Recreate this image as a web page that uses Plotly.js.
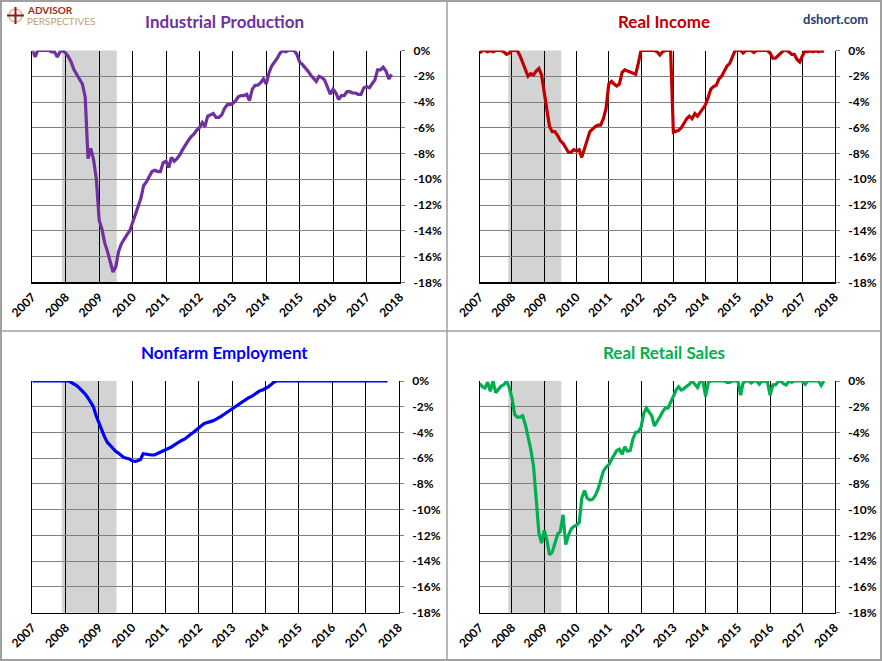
<!DOCTYPE html>
<html>
<head>
<meta charset="utf-8">
<script src="https://cdn.plot.ly/plotly-3.0.1.min.js"></script>
<style>
  html, body { margin: 0; padding: 0; background: #fff; }
  #chart { width: 882px; height: 661px; }
</style>
</head>
<body>
<div id="chart"></div>
<script>
// ---------------- DATA (percent below previous peak, monthly from Jan 2007) ----------------
const startYear = 2007;

const industrialProduction = [
  0, -0.5, 0, 0, 0, 0, 0, -0.1, -0.1, -0.5, -0.1, 0,
  -0.2, -0.5, -0.9, -1.5, -1.9, -2.2, -2.6, -3.6, -8.4, -7.6, -8.5, -10.0,
  -13.2, -13.9, -14.9, -15.6, -16.4, -17.2, -16.8, -15.6, -15.0, -14.6, -14.3, -14.0,
  -13.4, -12.8, -12.2, -11.5, -10.5, -10.2, -9.8, -9.4, -9.3, -9.4, -9.4, -8.7,
  -8.6, -9.1, -8.3, -8.6, -8.4, -8.1, -7.7, -7.3, -7.0, -6.7, -6.5, -6.2,
  -6.0, -5.6, -5.9, -5.1, -5.0, -4.9, -5.2, -5.2, -5.0, -4.5, -4.2, -4.2,
  -4.1, -3.9, -3.6, -3.5, -3.5, -3.4, -3.9, -3.0, -2.7, -2.7, -2.5, -2.2,
  -2.6, -1.7, -1.2, -0.9, -0.6, -0.2, 0, -0.1, 0, 0, 0, -0.3,
  -0.9, -1.1, -1.3, -1.6, -1.9, -2.2, -2.4, -2.0, -2.1, -2.3, -2.8, -3.4,
  -3.0, -3.3, -3.8, -3.5, -3.5, -3.2, -3.2, -3.3, -3.3, -3.4, -3.4, -2.9,
  -2.8, -2.9, -2.6, -2.3, -1.5, -1.5, -1.3, -1.6, -2.2, -1.85
];

const realIncome = [
  -0.2, 0, 0, -0.1, 0, -0.1, 0, 0, 0, -0.1, -0.3, -0.2,
  0, 0, 0, -0.4, -0.9, -1.5, -2.0, -1.8, -1.9, -1.6, -1.4, -1.9,
  -3.3, -5.0, -5.9, -6.3, -6.3, -6.6, -7.0, -7.2, -7.6, -7.9, -7.9, -7.7,
  -7.8, -7.7, -8.3, -7.6, -7.0, -6.3, -6.1, -5.9, -5.8, -5.8, -5.3, -4.5,
  -2.6, -2.4, -2.6, -2.75, -2.6, -1.7, -1.5, -1.6, -1.7, -1.8, -1.85, -1.0,
  0, 0, 0, 0, 0, 0, -0.1, -0.35, -0.1, 0, 0, 0,
  -6.35, -6.3, -6.2, -6.0, -5.6, -5.3, -5.1, -5.3, -4.9, -5.1, -4.8, -4.5,
  -4.2, -3.6, -3.0, -2.8, -2.7, -2.2, -2.0, -1.6, -1.2, -1.0, -0.45, 0,
  0, 0, -0.2, 0, 0, 0, -0.15, 0, 0, 0, 0, 0,
  -0.2, -0.6, -0.6, -0.4, -0.2, 0, 0, -0.1, -0.3, -0.3, -0.7, -0.9,
  -0.4, 0, -0.1, 0, -0.1, 0, -0.1, 0, -0.1
];

const nonfarmEmployment = [
  0, 0, 0, 0, 0, 0, 0, 0, 0, 0, 0, 0,
  0, 0, -0.1, -0.2, -0.35, -0.55, -0.75, -1.0, -1.3, -1.6, -2.0, -2.7,
  -3.3, -3.8, -4.3, -4.75, -5.0, -5.25, -5.45, -5.6, -5.8, -5.95, -6.0, -6.05,
  -6.2, -6.25, -6.2, -6.1, -5.65, -5.7, -5.75, -5.75, -5.75, -5.65, -5.55, -5.5,
  -5.4, -5.3, -5.15, -5.0, -4.85, -4.75, -4.6, -4.5, -4.3, -4.15, -4.0, -3.8,
  -3.6, -3.45, -3.3, -3.25, -3.2, -3.1, -3.0, -2.9, -2.75, -2.6, -2.45, -2.3,
  -2.15, -2.0, -1.9, -1.75, -1.6, -1.45, -1.3, -1.2, -1.05, -0.9, -0.75, -0.7,
  -0.6, -0.45, -0.3, -0.1, 0, 0, 0, 0, 0, 0, 0, 0,
  0, 0, 0, 0, 0, 0, 0, 0, 0, 0, 0, 0,
  0, 0, 0, 0, 0, 0, 0, 0, 0, 0, 0, 0,
  0, 0, 0, 0, 0, 0, 0, 0, 0
];

const realRetailSales = [
  -0.2, -0.45, -0.55, -0.1, -0.8, 0, -0.9, -0.65, -0.4, -0.3, 0, -0.5,
  -1.3, -2.6, -2.8, -2.8, -2.7, -3.4, -4.3, -5.3, -6.6, -9.5, -11.8, -12.6,
  -11.6, -12.4, -13.5, -13.3, -12.6, -11.9, -11.7, -10.4, -12.7, -12.0, -11.5, -11.3,
  -11.2, -11.0, -9.1, -8.5, -9.1, -9.25, -9.2, -8.9, -8.4, -7.6, -7.0, -6.7,
  -6.5, -6.1, -5.8, -5.4, -5.3, -5.7, -5.1, -5.45, -5.4, -4.5, -4.0, -3.95,
  -3.6, -2.5, -2.1, -2.4, -2.7, -3.5, -3.2, -2.8, -2.4, -2.1, -2.1, -1.7,
  -1.2, -0.7, -0.45, -0.7, -0.6, -0.4, -0.25, 0, -0.25, -0.5, 0, 0,
  -1.2, -0.1, 0, 0, 0, 0, 0, 0, -0.1, -0.1, 0, 0,
  0, -1.1, -0.15, 0, 0, -0.15, 0, 0, -0.25, 0, 0, -0.05,
  -1.1, -0.3, -0.3, -0.05, 0, -0.2, -0.3, 0, -0.1, 0, 0, 0,
  0, -0.25, 0, 0, 0, 0, 0, -0.35, 0
];

const recessionStart = '2007-11-20';
const recessionEnd = '2009-07-12';

const panelTitles = ['Industrial Production', 'Real Income', 'Nonfarm Employment', 'Real Retail Sales'];
const panelColors = ['#7030a0', '#c00000', '#0000ff', '#00b050'];
const yTickVals = [0, -2, -4, -6, -8, -10, -12, -14, -16, -18];
const yTickText = ['0%', '-2%', '-4%', '-6%', '-8%', '-10%', '-12%', '-14%', '-16%', '-18%'];

// ---------------- BUILD ----------------
function monthDates(n) {
  const out = [];
  for (let i = 0; i < n; i++) {
    const y = startYear + Math.floor(i / 12);
    const m = (i % 12) + 1;
    out.push(y + '-' + (m < 10 ? '0' + m : m) + '-01');
  }
  return out;
}

const W = 882, H = 661;
const FONT = 'Lato, "Liberation Sans", Arial, sans-serif';
const px = v => v / W;
const py = v => 1 - v / H;

const series = [industrialProduction, realIncome, nonfarmEmployment, realRetailSales];
const axisIds = ['', '2', '3', '4'];
// plot area boxes in pixels [left, right, top, bottom]
const boxes = [
  [32.3, 400.0, 50.5, 282.3],
  [479.7, 834.7, 50.5, 282.3],
  [32.3, 398.7, 381.0, 612.7],
  [479.7, 834.7, 381.0, 612.7]
];

const traces = series.map((vals, i) => ({
  type: 'scatter',
  mode: 'lines',
  x: monthDates(vals.length),
  y: vals,
  xaxis: 'x' + axisIds[i],
  yaxis: 'y' + axisIds[i],
  line: { color: panelColors[i], width: 3.2 },
  hoverinfo: 'skip',
  showlegend: false
}));

const layout = {
  width: W,
  height: H,
  margin: { l: 0, r: 0, t: 0, b: 0 },
  paper_bgcolor: '#ffffff',
  plot_bgcolor: 'rgba(0,0,0,0)',
  showlegend: false,
  font: { family: FONT, color: '#000' },
  shapes: [],
  annotations: []
};

boxes.forEach((b, i) => {
  const id = axisIds[i];
  layout['xaxis' + id] = {
    type: 'date',
    domain: [px(b[0]), px(b[1])],
    anchor: 'y' + id,
    range: ['2007-01-01', '2018-01-01'],
    tick0: '2007-01-01',
    dtick: 'M12',
    tickformat: '%Y',
    tickangle: -45,
    tickfont: { family: FONT, size: 12, color: '#000', weight: 'bold' },
    ticklabelstandoff: 2,
    showgrid: true,
    gridcolor: '#000000',
    gridwidth: 1,
    showline: true,
    linecolor: '#000000',
    linewidth: 1.2,
    ticks: '',
    zeroline: false,
    fixedrange: true
  };
  layout['yaxis' + id] = {
    domain: [py(b[3]), py(b[2])],
    anchor: 'x' + id,
    side: 'right',
    range: [-18, 0],
    tickmode: 'array',
    tickvals: yTickVals,
    ticktext: yTickText,
    tickfont: { family: FONT, size: 12, color: '#000', weight: 'bold' },
    showgrid: true,
    gridcolor: '#808080',
    gridwidth: 1,
    showline: true,
    mirror: true,
    linecolor: '#000000',
    linewidth: 1.2,
    ticks: 'outside',
    ticklen: 4,
    tickcolor: '#808080',
    ticklabelstandoff: 6,
    zeroline: false,
    fixedrange: true
  };
  // recession shading
  layout.shapes.push({
    type: 'rect', layer: 'below',
    xref: 'x' + id, yref: 'y' + id + ' domain',
    x0: recessionStart, x1: recessionEnd, y0: 0, y1: 1,
    fillcolor: '#d3d3d3', line: { width: 0 }
  });
  // panel title
  layout.annotations.push({
    xref: 'paper', yref: 'paper',
    x: px(i % 2 === 0 ? 224 : 664), y: py(i < 2 ? 22 : 352),
    xanchor: 'center', yanchor: 'middle',
    text: panelTitles[i], showarrow: false,
    font: { family: FONT, size: 17, color: panelColors[i], weight: 'bold' }
  });
});

// frame and dividers
const frameColor = '#a0a0a0';
layout.shapes.push(
  { type: 'rect', xref: 'paper', yref: 'paper', x0: px(1), x1: px(881), y0: py(660), y1: py(1),
    line: { color: frameColor, width: 2 }, fillcolor: 'rgba(0,0,0,0)', layer: 'above' },
  { type: 'line', xref: 'paper', yref: 'paper', x0: px(447), x1: px(447), y0: 0, y1: 1,
    line: { color: frameColor, width: 1.5 }, layer: 'above' },
  { type: 'line', xref: 'paper', yref: 'paper', x0: 0, x1: 1, y0: py(331), y1: py(331),
    line: { color: frameColor, width: 1.5 }, layer: 'above' }
);

// logo
layout.shapes.push(
  { type: 'circle', xref: 'paper', yref: 'paper', x0: px(9), x1: px(22), y0: py(22), y1: py(9),
    line: { color: '#c9a46a', width: 1.2 }, fillcolor: 'rgba(0,0,0,0)' },
  { type: 'line', xref: 'paper', yref: 'paper', x0: px(7), x1: px(24), y0: py(15.5), y1: py(15.5),
    line: { color: '#8b1a1a', width: 2 } },
  { type: 'line', xref: 'paper', yref: 'paper', x0: px(15.5), x1: px(15.5), y0: py(7), y1: py(24),
    line: { color: '#8b1a1a', width: 2 } }
);
layout.annotations.push(
  { xref: 'paper', yref: 'paper', x: px(25), y: py(9.5), xanchor: 'left', yanchor: 'middle',
    text: 'ADVISOR', showarrow: false,
    font: { family: FONT, size: 10, color: '#9b2d20', weight: 'bold' } },
  { xref: 'paper', yref: 'paper', x: px(24.5), y: py(21.5), xanchor: 'left', yanchor: 'middle',
    text: 'PERSPECTIVES', showarrow: false,
    font: { family: FONT, size: 10, color: '#c3a068' } },
  { xref: 'paper', yref: 'paper', x: px(835), y: py(19), xanchor: 'center', yanchor: 'middle',
    text: 'dshort.com', showarrow: false,
    font: { family: FONT, size: 13, color: '#23406e', weight: 'bold' } }
);

Plotly.newPlot('chart', traces, layout, { staticPlot: true, displayModeBar: false });
</script>
</body>
</html>
